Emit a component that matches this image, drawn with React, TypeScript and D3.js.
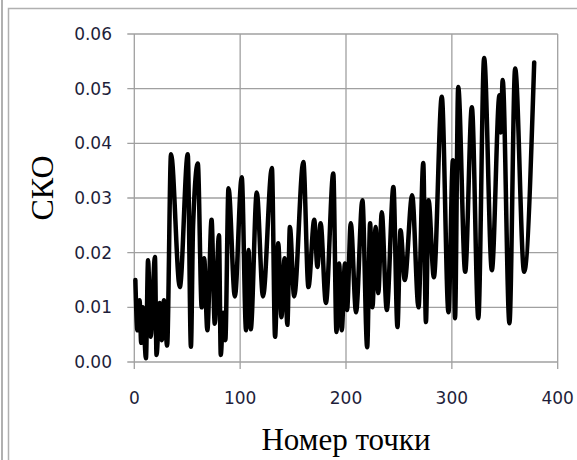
import { useEffect, useRef } from 'react';
import * as d3 from 'd3';

// point number (peaks and valleys)
const pointIdx = [
  1, 3, 5, 6.5, 8, 11, 13, 15.5, 19.5, 21, 24, 26, 28, 31, 34.7, 43, 50.5, 53.5, 55.5, 60,
  63.7, 66, 69, 73, 76, 80, 81.7, 84, 86, 89, 95, 101.5, 105.6, 108, 110, 115.7, 121.6, 130,
  133, 136, 139, 142, 144.6, 147, 151, 159.7, 164.5, 170, 173, 176, 181, 188, 191, 193.5, 196,
  199, 201, 204.5, 209.5, 215.5, 220, 222.8, 225, 228, 230.5, 233.8, 238.5, 244.8, 248.6,
  251.5, 255.5, 262.5, 268.5, 273, 275.5, 278, 283, 290.5, 296.8, 301, 303, 306, 312.6, 318.9,
  325, 330.5, 337.8, 345, 346.3, 348, 354.4, 359.8, 368.3, 377.8,
];

// СКО value at each point
const skoValues = [
  0.015, 0.0058, 0.0113, 0.0035, 0.010, 0.0007, 0.0186, 0.0046, 0.0192, 0.0013, 0.0108, 0.004,
  0.0113, 0.003, 0.038, 0.0137, 0.038, 0.0028, 0.0247, 0.0363, 0.010, 0.019, 0.0058, 0.026,
  0.007, 0.0232, 0.0013, 0.009, 0.004, 0.0318, 0.012, 0.0338, 0.0058, 0.0205, 0.006, 0.031,
  0.012, 0.0355, 0.0046, 0.0217, 0.0082, 0.019, 0.0068, 0.0247, 0.012, 0.0366, 0.0137, 0.026,
  0.0174, 0.0254, 0.0108, 0.0345, 0.0055, 0.018, 0.0058, 0.018, 0.0095, 0.0254, 0.0091, 0.0296,
  0.0027, 0.0254, 0.010, 0.0247, 0.0126, 0.0274, 0.0095, 0.032, 0.0064, 0.0241, 0.015, 0.0305,
  0.010, 0.0364, 0.0073, 0.0296, 0.0155, 0.0485, 0.0091, 0.0369, 0.008, 0.0503, 0.0165, 0.0466,
  0.008, 0.0556, 0.0168, 0.0488, 0.042, 0.0516, 0.0071, 0.0537, 0.0165, 0.0548,
];

const xTicks = [0, 100, 200, 300, 400];
const yTicks = [0, 0.01, 0.02, 0.03, 0.04, 0.05, 0.06];

export default function App() {
  const svgRef = useRef<SVGSVGElement>(null);

  useEffect(() => {
    if (!svgRef.current) return;
    const svg = d3.select(svgRef.current);
    svg.selectAll('*').remove();

    const W = 577;
    const H = 460;
    const left = 134.3, right = 557.7, top = 34, bottom = 362;
    const grid = '#a0a0a0';
    const tickColor = '#1e1e3a';

    svg.attr('width', W).attr('height', H);

    // outer frames
    svg.append('line')
      .attr('x1', 2).attr('x2', 2).attr('y1', 0).attr('y2', H)
      .attr('stroke', '#b0b0b0').attr('stroke-width', 2);
    svg.append('rect')
      .attr('x', 8.5).attr('y', 8.5).attr('width', W).attr('height', H)
      .attr('fill', 'none').attr('stroke', '#b0b0b0').attr('stroke-width', 1.5);

    const x = d3.scaleLinear().domain([0, 400]).range([left, right]);
    const y = d3.scaleLinear().domain([0, 0.06]).range([bottom, top]);

    const g = svg.append('g');

    // horizontal grid + y ticks
    g.selectAll('.hgrid')
      .data(yTicks)
      .join('line')
      .attr('x1', left - 7).attr('x2', right)
      .attr('y1', d => y(d)).attr('y2', d => y(d))
      .attr('stroke', grid).attr('stroke-width', 1.3);

    // vertical grid + x ticks
    g.selectAll('.vgrid')
      .data(xTicks)
      .join('line')
      .attr('x1', d => x(d)).attr('x2', d => x(d))
      .attr('y1', top).attr('y2', bottom + 7)
      .attr('stroke', grid).attr('stroke-width', 1.3);

    // y tick labels
    g.selectAll('.ylab')
      .data(yTicks)
      .join('text')
      .attr('x', 112)
      .attr('y', d => y(d))
      .attr('dy', '0.36em')
      .attr('text-anchor', 'end')
      .attr('font-family', 'DejaVu Sans')
      .attr('font-size', '17px')
      .attr('fill', tickColor)
      .text(d => d3.format('.2f')(d));

    // x tick labels
    g.selectAll('.xlab')
      .data(xTicks)
      .join('text')
      .attr('x', d => x(d))
      .attr('y', 404)
      .attr('text-anchor', 'middle')
      .attr('font-family', 'DejaVu Sans')
      .attr('font-size', '17px')
      .attr('fill', tickColor)
      .text(d => String(d));

    // series
    const pts = pointIdx.map((p, i) => [p, skoValues[i]] as [number, number]);
    const line = d3.line<[number, number]>()
      .x(d => x(d[0]))
      .y(d => y(d[1]))
      .curve(d3.curveMonotoneX);

    g.append('path')
      .datum(pts)
      .attr('fill', 'none')
      .attr('stroke', '#000')
      .attr('stroke-width', 4.5)
      .attr('stroke-linejoin', 'round')
      .attr('stroke-linecap', 'round')
      .attr('d', line);

    // axis titles
    svg.append('text')
      .attr('transform', 'translate(53, 188) rotate(-90)')
      .attr('text-anchor', 'middle')
      .attr('font-family', 'Liberation Serif')
      .attr('font-size', '32px')
      .attr('fill', '#000')
      .text('СКО');

    svg.append('text')
      .attr('x', 346)
      .attr('y', 450)
      .attr('text-anchor', 'middle')
      .attr('font-family', 'Liberation Serif')
      .attr('font-size', '31px')
      .attr('fill', '#000')
      .text('Номер точки');
  }, []);

  return (
    <svg
      ref={svgRef}
      style={{ position: 'absolute', left: 0, top: 0, background: '#fff' }}
    />
  );
}
